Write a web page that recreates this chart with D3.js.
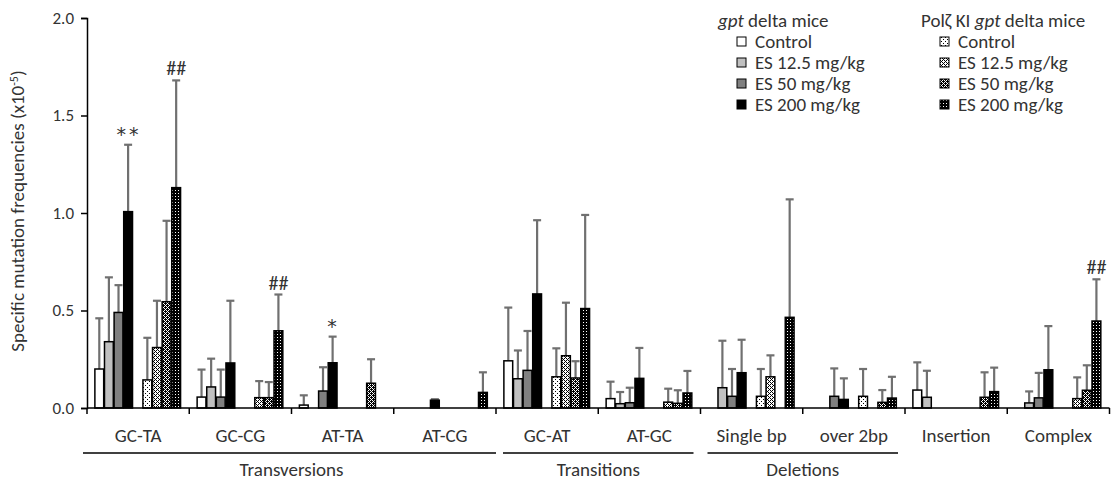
<!DOCTYPE html>
<html>
<head>
<meta charset="utf-8">
<script src="https://cdn.jsdelivr.net/npm/d3@7"></script>
<style>
  body { margin: 0; background: #fff; }
  svg text { font-family: Carlito, "Liberation Sans", Arial, sans-serif; fill: #333; }
</style>
</head>
<body>
<svg id="chart" width="1112" height="486"></svg>
<script>
/* Data */
var categories = ["GC-TA", "GC-CG", "AT-TA", "AT-CG", "GC-AT", "AT-GC", "Single bp", "over 2bp", "Insertion", "Complex"];
var yTicks = [0, 0.5, 1.0, 1.5, 2.0];

var seriesNames = ["gpt Control", "gpt ES 12.5", "gpt ES 50", "gpt ES 200",
                   "Polz Control", "Polz ES 12.5", "Polz ES 50", "Polz ES 200"];

// means (x10^-5)
var gptControl = [0.20, 0.056, 0.015, 0, 0.242, 0.048, 0, 0, 0.092, 0];
var gpt125     = [0.34, 0.108, 0, 0, 0.15, 0.022, 0.104, 0, 0.055, 0.026];
var gpt50      = [0.49, 0.056, 0.087, 0, 0.193, 0.027, 0.06, 0.06, 0, 0.052];
var gpt200     = [1.007, 0.231, 0.232, 0.04, 0.585, 0.152, 0.181, 0.044, 0, 0.196];
var pzControl  = [0.144, 0, 0, 0, 0.16, 0, 0.06, 0.06, 0, 0];
var pz125      = [0.31, 0.053, 0, 0, 0.268, 0.03, 0.16, 0, 0, 0.048];
var pz50       = [0.545, 0.053, 0.127, 0, 0.154, 0.024, 0, 0.029, 0.055, 0.091];
var pz200      = [1.13, 0.396, 0, 0.08, 0.51, 0.077, 0.465, 0.051, 0.084, 0.446];

// standard deviations (upper error bars)
var gptControlSd = [0.26, 0.141, 0.05, 0, 0.273, 0.087, 0, 0, 0.142, 0];
var gpt125Sd     = [0.33, 0.145, 0, 0, 0.145, 0.06, 0.241, 0, 0.136, 0.059];
var gpt50Sd      = [0.14, 0.141, 0.122, 0, 0.202, 0.077, 0.14, 0.143, 0, 0.128];
var gpt200Sd     = [0.343, 0.319, 0.134, 0.005, 0.378, 0.156, 0.169, 0.108, 0, 0.224];
var pzControlSd  = [0.216, 0, 0, 0, 0.146, 0, 0.14, 0.14, 0, 0];
var pz125Sd      = [0.24, 0.085, 0, 0, 0.272, 0.069, 0.11, 0, 0, 0.109];
var pz50Sd       = [0.415, 0.08, 0.123, 0, 0.086, 0.067, 0, 0.063, 0.128, 0.128];
var pz200Sd      = [0.55, 0.186, 0, 0.103, 0.48, 0.113, 0.605, 0.109, 0.123, 0.214];

// significance marks: category index, series index, text
var marks = [
    {cat: 0, s: 3, text: "**"},
    {cat: 0, s: 7, text: "##"},
    {cat: 1, s: 7, text: "##"},
    {cat: 2, s: 3, text: "*"},
    {cat: 9, s: 7, text: "##"}
];

// bottom groups: first and last category index
var groups = [
    {name: "Transversions", from: 0, to: 3},
    {name: "Transitions", from: 4, to: 5},
    {name: "Deletions", from: 6, to: 7}
];

var legendLabels = ["Control", "ES 12.5 mg/kg", "ES 50 mg/kg", "ES 200 mg/kg"];

/* Setup */
var means = [gptControl, gpt125, gpt50, gpt200, pzControl, pz125, pz50, pz200];
var sds = [gptControlSd, gpt125Sd, gpt50Sd, gpt200Sd, pzControlSd, pz125Sd, pz50Sd, pz200Sd];
var fills = ["#ffffff", "#c0c0c0", "#808080", "#000000",
             "url(#pz0)", "url(#pz1)", "url(#pz2)", "url(#pz3)"];
// slot of each series inside a category (slot 4 is the gap)
var slots = [0, 1, 2, 3, 5, 6, 7, 8];

var svg = d3.select("#chart");
var plotLeft = 87, plotRight = 1109.5, plotTop = 18, base = 408;

var x = d3.scaleBand().domain(categories).range([plotLeft, plotRight]);
var sub = d3.scaleBand().domain(d3.range(9)).range([0, x.bandwidth()]).paddingOuter(0.82);
var y = d3.scaleLinear().domain([0, 2]).range([base, plotTop]);

// patterns for the Polz KI series
var defs = svg.append("defs");
function pattern(id, bg, fg, size, pts) {
    var p = defs.append("pattern").attr("id", id)
        .attr("patternUnits", "userSpaceOnUse")
        .attr("width", size).attr("height", size);
    p.append("rect").attr("width", size).attr("height", size).attr("fill", bg);
    pts.forEach(function(d){
        p.append("rect").attr("x", d[0]).attr("y", d[1]).attr("width", 1).attr("height", 1).attr("fill", fg);
    });
}
pattern("pz0", "#fff", "#000", 4, [[1, 1], [3, 3]]);
pattern("pz1", "#fff", "#000", 4, [[0, 0], [2, 0], [1, 1], [0, 2], [2, 2], [3, 3]]);
pattern("pz2", "#000", "#fff", 4, [[0, 0], [2, 0], [1, 1], [0, 2], [2, 2], [3, 3]]);
pattern("pz3", "#000", "#fff", 3, [[1, 1]]);

/* Bars */
var bars = [];
means.forEach(function(arr, s){
    arr.forEach(function(v, c){
        if (v > 0) bars.push({s: s, c: c, v: v, sd: sds[s][c]});
    });
});

var barW = sub.bandwidth() - 0.8;
function barX(d) { return x(categories[d.c]) + sub(slots[d.s]); }

// error bars
var errColor = "#707070";
var err = svg.append("g").selectAll("g")
    .data(bars.filter(function(d){ return d.sd > 0; }))
    .enter().append("g");
err.append("line")
    .attr("x1", function(d){ return barX(d) + barW / 2; })
    .attr("x2", function(d){ return barX(d) + barW / 2; })
    .attr("y1", function(d){ return y(d.v); })
    .attr("y2", function(d){ return y(d.v + d.sd); })
    .attr("stroke", errColor).attr("stroke-width", 2.2);
err.append("line")
    .attr("x1", function(d){ return barX(d) + barW / 2 - 4; })
    .attr("x2", function(d){ return barX(d) + barW / 2 + 4; })
    .attr("y1", function(d){ return y(d.v + d.sd); })
    .attr("y2", function(d){ return y(d.v + d.sd); })
    .attr("stroke", errColor).attr("stroke-width", 2.2);

svg.append("g").selectAll("rect")
    .data(bars)
    .enter().append("rect")
    .attr("x", function(d){ return barX(d); })
    .attr("y", function(d){ return y(d.v); })
    .attr("width", barW)
    .attr("height", function(d){ return base - y(d.v); })
    .attr("fill", function(d){ return fills[d.s]; })
    .attr("stroke", "#000").attr("stroke-width", 1.5);

// significance marks
function isStar(d) { return d.text.charAt(0) === "*"; }
svg.append("g").selectAll("text")
    .data(marks)
    .enter().append("text")
    .attr("x", function(d){ return x(categories[d.cat]) + sub(slots[d.s]) + barW / 2 + (isStar(d) ? 1 : 0); })
    .attr("y", function(d){
        var v = means[d.s][d.cat] + sds[d.s][d.cat];
        return y(v) + (isStar(d) ? -4 : -5);
    })
    .attr("text-anchor", "middle")
    .style("font-family", function(d){ return isStar(d) ? '"DejaVu Sans", sans-serif' : null; })
    .style("letter-spacing", function(d){ return isStar(d) ? "3px" : null; })
    .style("font-size", function(d){ return isStar(d) ? "19px" : "20px"; })
    .text(function(d){ return d.text; });

/* Axes */
var yAxis = svg.append("g")
    .attr("transform", "translate(" + plotLeft + ",0)")
    .call(d3.axisLeft(y).tickValues(yTicks).tickSize(6).tickPadding(7)
        .tickFormat(d3.format(".1f")));
yAxis.select(".domain").attr("stroke", "#000").attr("stroke-width", 1.5);
yAxis.selectAll(".tick line").attr("stroke", "#000").attr("stroke-width", 1.5);
yAxis.selectAll(".tick text").style("font-size", "17px").attr("fill", "#333")
    .style("font-family", 'Carlito, "Liberation Sans", Arial, sans-serif');

// x baseline with ticks at category boundaries
var bounds = categories.map(function(c){ return x(c); }).concat([plotRight]);
svg.append("line")
    .attr("x1", plotLeft).attr("x2", plotRight).attr("y1", base).attr("y2", base)
    .attr("stroke", "#000").attr("stroke-width", 1.5);
svg.append("g").selectAll("line")
    .data(bounds)
    .enter().append("line")
    .attr("x1", function(d){ return d; }).attr("x2", function(d){ return d; })
    .attr("y1", base).attr("y2", base + 6)
    .attr("stroke", "#000").attr("stroke-width", 1.5);

svg.append("g").selectAll("text")
    .data(categories)
    .enter().append("text")
    .attr("x", function(d){ return x(d) + x.bandwidth() / 2; })
    .attr("y", 442)
    .attr("text-anchor", "middle")
    .style("font-size", "19px")
    .text(function(d){ return d; });

// group lines and labels
var gLines = svg.append("g").selectAll("g").data(groups).enter().append("g");
gLines.append("line")
    .attr("x1", function(d, i){ return x(categories[d.from]) + (i === 0 ? -4 : 7); })
    .attr("x2", function(d, i){ return x(categories[d.to]) + x.bandwidth() - (i === 0 ? 0 : 7); })
    .attr("y1", 453).attr("y2", 453)
    .attr("stroke", "#000").attr("stroke-width", 1.5);
gLines.append("text")
    .attr("x", function(d){ return (x(categories[d.from]) + x(categories[d.to]) + x.bandwidth()) / 2; })
    .attr("y", 476)
    .attr("text-anchor", "middle")
    .style("font-size", "19px")
    .text(function(d){ return d.name; });

// y title
var yt = svg.append("text")
    .attr("transform", "translate(24,211) rotate(-90)")
    .attr("text-anchor", "middle")
    .style("font-size", "19px");
yt.append("tspan").text("Specific  mutation frequencies (x10");
yt.append("tspan").attr("dy", -6).style("font-size", "12px").text("-5");
yt.append("tspan").attr("dy", 6).text(")");

/* Legend */
function legend(x0, title, italicAt, fillSet) {
    var g = svg.append("g");
    var t = g.append("text").attr("x", x0).attr("y", 27).style("font-size", "19px");
    title.forEach(function(part, i){
        t.append("tspan").style("font-style", i === italicAt ? "italic" : "normal").text(part);
    });
    legendLabels.forEach(function(lab, i){
        var yy = 42 + i * 21;
        g.append("rect").attr("x", x0 + 19).attr("y", yy - 5).attr("width", 9).attr("height", 9)
            .attr("fill", fillSet[i]).attr("stroke", "#000").attr("stroke-width", 1);
        g.append("text").attr("x", x0 + 37).attr("y", yy + 6)
            .style("font-size", "19px").text(lab);
    });
}
legend(718, ["gpt", " delta mice"], 0, fills.slice(0, 4));
legend(921, ["Polζ KI ", "gpt", " delta mice"], 1, fills.slice(4));
</script>
</body>
</html>
